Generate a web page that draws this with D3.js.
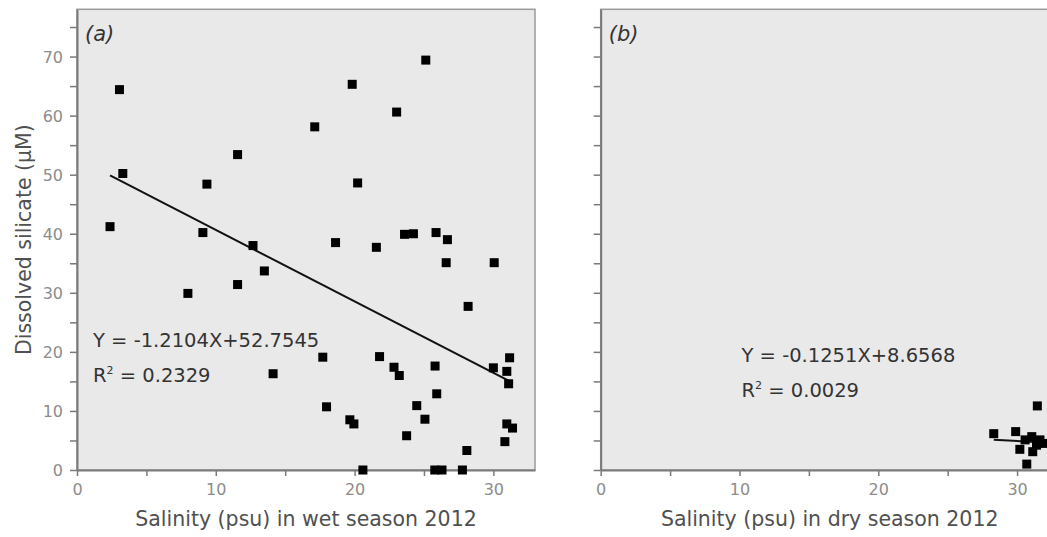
<!DOCTYPE html>
<html>
<head>
<meta charset="utf-8">
<script src="https://cdn.jsdelivr.net/npm/d3@7"></script>
<style>
  body { margin: 0; background: #fff; }
  text { font-family: "DejaVu Sans", Verdana, sans-serif; }
</style>
</head>
<body>
<div id="chart"></div>
<script>
// DATA
var wetSalinity = [3.06, 11.57, 3.30, 9.36, 2.38, 9.07, 12.68, 13.5, 7.99, 11.57, 14.13,
  25.13, 19.83, 23.03, 17.13, 20.22, 18.63, 21.57, 23.6, 24.24, 25.87, 26.69, 26.6, 30.06,
  28.18, 17.71, 21.8, 22.84, 23.22, 25.8, 25.92, 30.0, 31.17, 30.97, 17.98, 19.66, 19.95,
  24.48, 25.07, 23.75, 30.97, 31.38, 30.83, 28.09, 20.6, 25.78, 26.3, 27.77, 31.1];
var wetSilicate = [64.4, 53.4, 50.2, 48.4, 41.2, 40.2, 38.0, 33.7, 29.9, 31.4, 16.3,
  69.4, 65.3, 60.6, 58.1, 48.6, 38.5, 37.7, 39.9, 40.0, 40.2, 39.0, 35.1, 35.1,
  27.7, 19.1, 19.2, 17.4, 16.0, 17.6, 12.9, 17.3, 19.0, 16.7, 10.7, 8.5, 7.8,
  10.9, 8.6, 5.8, 7.8, 7.1, 4.8, 3.3, 0, 0, 0, 0, 14.6];

var drySalinity = [28.32, 29.9, 31.46, 30.58, 31.06, 31.65, 32.0, 30.2, 31.13, 31.4, 30.7];
var drySilicate = [6.15, 6.5, 10.85, 5.1, 5.65, 5.1, 4.5, 3.5, 3.1, 4.2, 1.0];

var wetFit = { slope: -1.2104, intercept: 52.7545, r2: "0.2329" };
var dryFit = { slope: -0.1251, intercept: 8.6568, r2: "0.0029" };

var xTicks = [0, 5, 10, 15, 20, 25, 30];
var yTicks = [0, 5, 10, 15, 20, 25, 30, 35, 40, 45, 50, 55, 60, 65, 70, 75];

var svgWidth = 1047;
var svgHeight = 537;

var panelWidth = 458;
var panelTop = 9.3;
var panelBottom = 470;

var svg = d3.select("#chart")
  .append("svg")
  .attr("width", svgWidth)
  .attr("height", svgHeight);

var yScale = d3.scaleLinear()
  .domain([0, 78])
  .range([panelBottom, panelTop]);

function drawPanel(left, xs, ys, fit, label, title, showYLabels, eqX, eqY) {
  var xScale = d3.scaleLinear()
    .domain([0, 33])
    .range([left, left + panelWidth]);

  var g = svg.append("g");

  // frame
  g.append("rect")
    .attr("x", left)
    .attr("y", panelTop)
    .attr("width", panelWidth)
    .attr("height", panelBottom - panelTop)
    .attr("fill", "#e9e9e9")
    .attr("stroke", "#9a9a9a")
    .attr("stroke-width", 1.5);

  // axes
  var xAxis = g.append("g")
    .attr("transform", `translate(0, ${panelBottom})`)
    .call(d3.axisBottom(xScale)
      .tickValues(xTicks)
      .tickSize(6)
      .tickSizeOuter(0)
      .tickFormat(d => d % 10 === 0 ? d : ""));

  var yAxis = g.append("g")
    .attr("transform", `translate(${left}, 0)`)
    .call(d3.axisLeft(yScale)
      .tickValues(yTicks)
      .tickSize(7)
      .tickSizeOuter(0)
      .tickFormat(d => (showYLabels && d % 10 === 0) ? d : ""));

  [xAxis, yAxis].forEach(function(ax) {
    ax.select(".domain").attr("stroke", "#7a7a7a").attr("stroke-width", 2);
    ax.selectAll(".tick line").attr("stroke", "#7a7a7a").attr("stroke-width", 1.5);
    ax.selectAll(".tick text")
      .attr("fill", "#8c8c8c")
      .style("font-size", "16px")
      .style("font-family", "DejaVu Sans, sans-serif");
  });
  xAxis.selectAll(".tick text").attr("y", 13).attr("dy", "0.75em");
  yAxis.selectAll(".tick text").attr("x", -14).attr("dy", "0.36em");

  // fit line across the data range
  var xMin = d3.min(xs), xMax = d3.max(xs);
  g.append("line")
    .attr("x1", xScale(xMin))
    .attr("y1", yScale(fit.slope * xMin + fit.intercept))
    .attr("x2", xScale(xMax))
    .attr("y2", yScale(fit.slope * xMax + fit.intercept))
    .attr("stroke", "#111")
    .attr("stroke-width", 2);

  // points
  var size = 9;
  g.selectAll("rect.pt")
    .data(xs.map((x, i) => [x, ys[i]]))
    .enter()
    .append("rect")
    .attr("class", "pt")
    .attr("x", d => xScale(d[0]) - size / 2)
    .attr("y", d => yScale(d[1]) - size / 2)
    .attr("width", size)
    .attr("height", size)
    .attr("fill", "#000");

  // panel label
  g.append("text")
    .attr("x", left + 8)
    .attr("y", 41)
    .attr("fill", "#333")
    .style("font-size", "21px")
    .style("font-style", "italic")
    .text(label);

  // equation
  var sign = fit.intercept >= 0 ? "+" : "-";
  g.append("text")
    .attr("x", eqX)
    .attr("y", eqY)
    .attr("fill", "#333")
    .style("font-size", "19.5px")
    .text(`Y = ${fit.slope.toFixed(4)}X${sign}${Math.abs(fit.intercept).toFixed(4)}`);

  var r2 = g.append("text")
    .attr("x", eqX)
    .attr("y", eqY + 35)
    .attr("fill", "#333")
    .style("font-size", "19.5px");
  r2.append("tspan").text("R");
  r2.append("tspan").attr("dy", -8).style("font-size", "11px").text("2");
  r2.append("tspan").attr("dy", 8).text(" = " + fit.r2);

  // x title
  g.append("text")
    .attr("x", left + panelWidth / 2)
    .attr("y", 526)
    .attr("text-anchor", "middle")
    .attr("fill", "#505050")
    .style("font-size", "20.5px")
    .text(title);
}

drawPanel(77, wetSalinity, wetSilicate, wetFit, "(a)",
  "Salinity (psu) in wet season 2012", true, 93, 347);
drawPanel(600.7, drySalinity, drySilicate, dryFit, "(b)",
  "Salinity (psu) in dry season 2012", false, 741.5, 362);

// y title
svg.append("text")
  .attr("transform", `translate(31, ${(panelTop + panelBottom) / 2}) rotate(-90)`)
  .attr("text-anchor", "middle")
  .attr("fill", "#505050")
  .style("font-size", "20.5px")
  .text("Dissolved silicate (μM)");
</script>
</body>
</html>
